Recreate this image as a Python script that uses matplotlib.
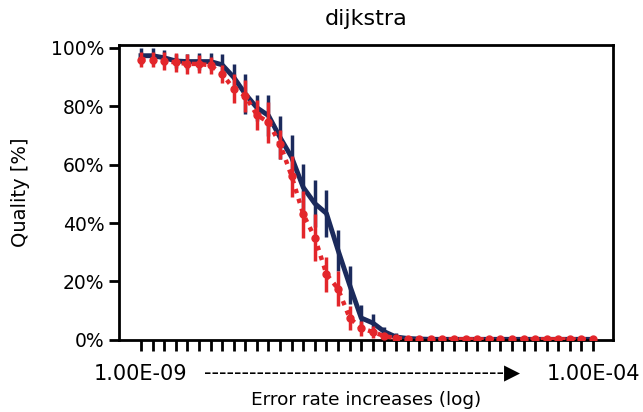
import matplotlib
matplotlib.use("Agg")
import matplotlib.pyplot as plt
import numpy as np

# series (quality in %)
idx = list(range(40))
navy_mean = [97.3, 97.3, 96.6, 95.5, 95.3, 95.3, 95.3, 94.2, 89.9, 84.2,
             79.5, 76.8, 69.3, 62.5, 52.2, 46.7, 43.3, 30.7, 18.8, 7.5,
             5.8, 2.8, 1.0, 0.5, 0.3, 0.2, 0.2, 0.2, 0.2, 0.2,
             0.2, 0.2, 0.2, 0.2, 0.2, 0.2, 0.2, 0.2, 0.2, 0.2]
navy_err = [2.7, 2.7, 2.5, 2.5, 2.5, 3.0, 3.0, 3.8, 4.6, 6.7,
            4.5, 7.0, 7.5, 7.5, 8.0, 8.0, 8.0, 7.0, 6.5, 4.5,
            3.0, 1.5, 1.4, 0.5, 0.3, 0.2, 0.2, 0.2, 0.2, 0.2,
            0.2, 0.2, 0.2, 0.2, 0.2, 0.2, 0.2, 0.2, 0.2, 0.2]
red_mean = [96.0, 96.0, 95.5, 95.0, 94.5, 94.5, 94.0, 91.0, 86.0, 83.5,
            77.0, 74.5, 67.0, 56.0, 43.0, 35.0, 22.5, 17.5, 7.5, 4.0,
            2.7, 1.3, 0.6, 0.3, 0.2, 0.2, 0.2, 0.2, 0.2, 0.2,
            0.2, 0.2, 0.2, 0.2, 0.2, 0.2, 0.2, 0.2, 0.2, 0.2]
red_err = [2.7, 2.7, 3.0, 3.4, 3.4, 3.0, 3.0, 3.0, 5.0, 5.6,
           5.0, 7.0, 5.0, 7.0, 8.0, 8.0, 6.0, 6.0, 4.0, 2.5,
           2.0, 1.0, 0.5, 0.3, 0.2, 0.2, 0.2, 0.2, 0.2, 0.2,
           0.2, 0.2, 0.2, 0.2, 0.2, 0.2, 0.2, 0.2, 0.2, 0.2]
yticks = [0, 20, 40, 60, 80, 100]
first_label = "1.00E-09"
last_label = "1.00E-04"

navy = "#1b2a5c"
red = "#e3262b"

fig = plt.figure(figsize=(6.43, 4.12), dpi=100)
ax = fig.add_axes([0.185, 0.175, 0.768, 0.716])

ax.errorbar(idx, navy_mean, yerr=navy_err, color=navy, lw=3.5, elinewidth=2.5,
            capsize=0, zorder=2)
ax.errorbar(idx, red_mean, yerr=red_err, color=red, lw=3.2, ls=(0, (1, 1.3)),
            marker="o", markersize=5, elinewidth=2.5, capsize=0, zorder=3)

ax.set_xlim(-1.9, 40.7)
ax.set_ylim(0, 101)
ax.set_yticks(yticks)
ax.set_yticklabels([f"{v}%" for v in yticks], fontsize=13.5)

ax.set_xticks(idx)
ax.set_xticklabels([""] * len(idx))
ax.tick_params(axis="x", direction="out", length=8, width=2)
ax.tick_params(axis="y", direction="out", length=7, width=2)
for s in ax.spines.values():
    s.set_linewidth(2)

# end labels and the dashed arrow below the axis
ax.text(idx[0], -0.115, first_label, transform=ax.get_xaxis_transform(),
        ha="center", va="center", fontsize=15)
ax.text(idx[-1], -0.115, last_label, transform=ax.get_xaxis_transform(),
        ha="center", va="center", fontsize=15)
ax.text(19.05, -0.115, "-" * 40 + "\u25B6", transform=ax.get_xaxis_transform(),
        ha="center", va="center", fontsize=15)

ax.set_xlabel("Error rate increases (log)", fontsize=13.3, labelpad=25)
ax.set_ylabel("Quality [%]", fontsize=14, labelpad=15)
ax.set_title("dijkstra", fontsize=16, pad=14)

fig.savefig("out.png", dpi=100)
